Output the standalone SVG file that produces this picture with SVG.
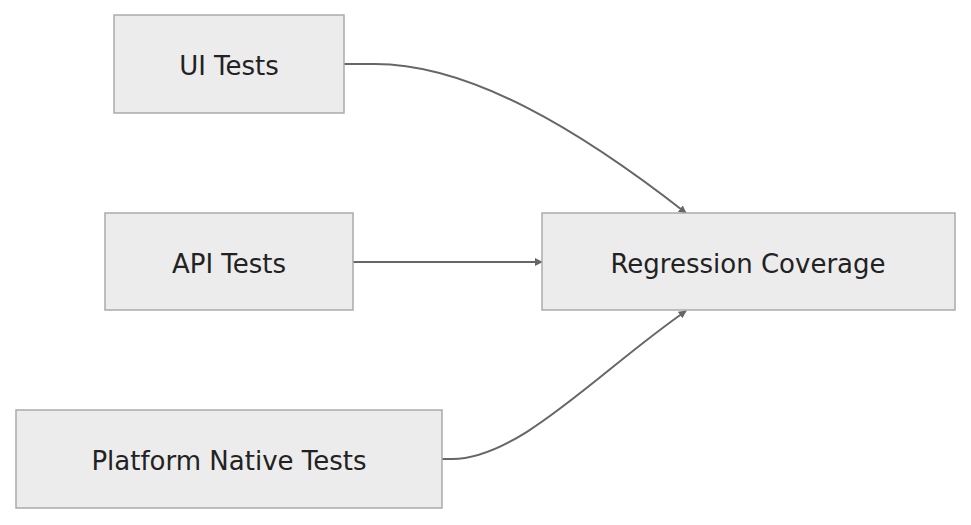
<svg xmlns="http://www.w3.org/2000/svg" width="971" height="525" viewBox="0 0 971 525">
<style>
.n rect{fill:#ececec;stroke:#aaaaaa;stroke-width:1.5}
.n text{font-family:"DejaVu Sans",sans-serif;font-size:26px;fill:#222;text-anchor:middle;dominant-baseline:central}
.e path{fill:none;stroke:#666;stroke-width:2;marker-end:url(#a)}
</style>
<defs><marker id="a" viewBox="0 0 10 10" refX="9" refY="5" markerWidth="8" markerHeight="8" orient="auto" markerUnits="userSpaceOnUse"><path d="M0,0L10,5L0,10z" fill="#666"/></marker></defs>
<g class="e">
<path d="M344,64 L375,64 C470,64 580,130 686,213"/>
<path d="M353,262 L542,262"/>
<path d="M442,459 L452,459 C520,459 600,370 686,311"/>
</g>
<g class="n" id="ui"><rect x="114" y="15" width="230" height="98"/><text x="229" y="66">UI Tests</text></g>
<g class="n" id="api"><rect x="105" y="213" width="248" height="97"/><text x="229" y="264">API Tests</text></g>
<g class="n" id="platform"><rect x="16" y="410" width="426" height="98"/><text x="229" y="461">Platform Native Tests</text></g>
<g class="n" id="reg"><rect x="542" y="213" width="413" height="97"/><text x="748" y="264">Regression Coverage</text></g>
</svg>
